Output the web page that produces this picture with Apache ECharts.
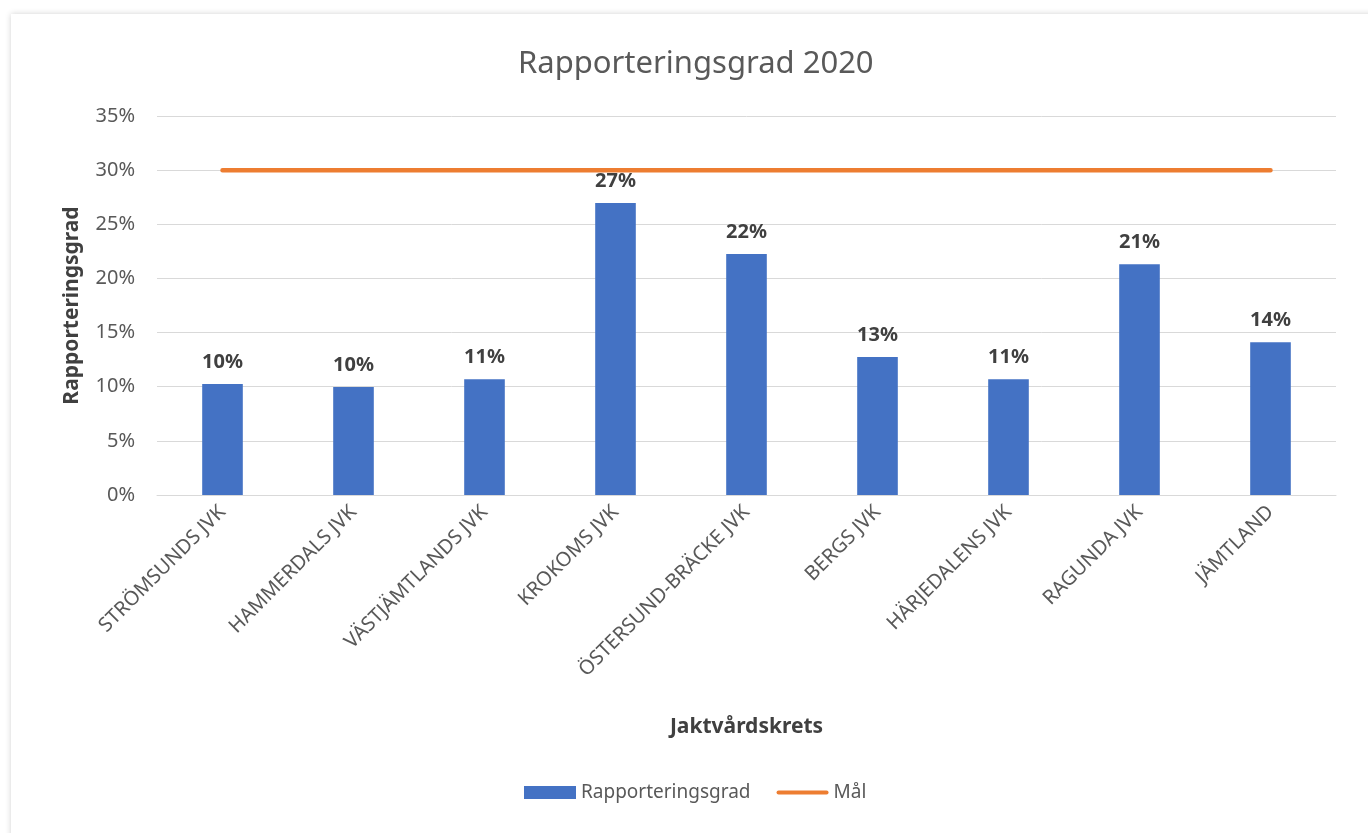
<!DOCTYPE html>
<html>
<head>
<meta charset="utf-8">
<script src="https://cdn.jsdelivr.net/npm/echarts@6/dist/echarts.min.js"></script>
<style>
html,body{margin:0;padding:0;background:#fff;overflow:hidden;}
#frame{position:absolute;left:11px;top:14px;width:1400px;height:900px;background:#fff;box-shadow:0 0 6px rgba(0,0,0,0.18);}
#chart{position:absolute;left:0;top:0;width:1368px;height:833px;}
</style>
</head>
<body>
<div id="frame"></div>
<div id="chart"></div>
<script>
const categories = ['STRÖMSUNDS JVK','HAMMERDALS JVK','VÄSTJÄMTLANDS JVK','KROKOMS JVK','ÖSTERSUND-BRÄCKE JVK','BERGS JVK','HÄRJEDALENS JVK','RAGUNDA JVK','JÄMTLAND'];
const rapporteringsgrad = [10.25, 9.97, 10.7, 26.96, 22.25, 12.74, 10.7, 21.3, 14.1];
const mal = [30, 30, 30, 30, 30, 30, 30, 30, 30];
const yTicks = [0, 5, 10, 15, 20, 25, 30, 35];

const FONT = '"Noto Sans", "Open Sans", sans-serif';
const chart = echarts.init(document.getElementById('chart'), null, {renderer: 'canvas'});
chart.setOption({
  backgroundColor: 'transparent',
  textStyle: {fontFamily: FONT},
  title: {
    text: 'Rapporteringsgrad 2020',
    left: 513, top: 44,
    textStyle: {fontFamily: FONT, fontSize: 31, fontWeight: 'normal', color: '#595959'}
  },
  grid: {left: 157, right: 32, top: 116, bottom: 338, containLabel: false},
  legend: {
    bottom: 26, left: 519,
    itemWidth: 52, itemHeight: 13, itemGap: 26,
    textStyle: {fontFamily: FONT, fontSize: 19, color: '#595959'},
    data: [
      {name: 'Rapporteringsgrad', icon: 'rect'},
      {name: 'Mål', icon: 'path://M2,0 L50,0 A2,2 0 0 1 50,4 L2,4 A2,2 0 0 1 2,0 Z'}
    ]
  },
  xAxis: {
    type: 'category',
    data: categories,
    name: 'Jaktvårdskrets',
    nameLocation: 'middle',
    nameGap: 222,
    nameTextStyle: {fontFamily: FONT, fontSize: 21, fontWeight: 'bold', color: '#404040'},
    axisLine: {lineStyle: {color: '#D9D9D9', width: 1}},
    axisTick: {show: false},
    axisLabel: {rotate: 45, interval: 0, fontSize: 20, color: '#595959', margin: 14, fontFamily: FONT}
  },
  yAxis: {
    type: 'value',
    min: 0, max: 35, interval: 5,
    name: 'Rapporteringsgrad',
    nameLocation: 'middle',
    nameGap: 74,
    nameTextStyle: {fontFamily: FONT, fontSize: 21, fontWeight: 'bold', color: '#404040'},
    axisLine: {show: false},
    axisTick: {show: false},
    splitLine: {lineStyle: {color: '#D9D9D9', width: 1}},
    axisLabel: {
      fontSize: 20, color: '#595959', margin: 22, fontFamily: FONT,
      formatter: v => (yTicks.includes(v) ? v + '%' : '')
    }
  },
  series: [
    {
      name: 'Rapporteringsgrad',
      type: 'bar',
      data: rapporteringsgrad,
      barWidth: '31%',
      itemStyle: {color: '#4472C4'},
      label: {
        show: true, position: 'top', distance: 12,
        fontFamily: FONT, fontSize: 20, fontWeight: 'bold', color: '#404040',
        formatter: p => Math.round(p.value) + '%'
      },
      z: 2
    },
    {
      name: 'Mål',
      type: 'line',
      data: mal,
      symbol: 'none',
      showSymbol: false,
      symbolKeepAspect: true,
      lineStyle: {color: '#ED7D31', width: 4.5, cap: 'round'},
      itemStyle: {color: '#ED7D31'},
      z: 3
    }
  ]
});
</script>
</body>
</html>
